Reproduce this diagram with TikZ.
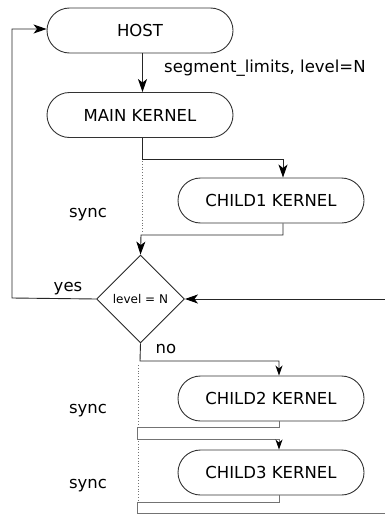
\documentclass[tikz,border=0pt]{standalone}
\usepackage{fontspec}
\setmainfont{DejaVu Sans}
\usetikzlibrary{shapes.misc,shapes.geometric,arrows.meta}
\begin{document}
\begin{tikzpicture}[x=1pt,y=-1pt,
  kernel/.style={rounded rectangle, draw=black!80, line width=0.9pt, minimum width=186pt, minimum height=45pt, inner sep=0pt, font=\fontsize{16.5}{19}\selectfont},
  decide/.style={diamond, draw=black!85, line width=0.9pt, minimum width=88pt, minimum height=88pt, inner sep=0pt, font=\fontsize{12}{14}\selectfont},
  conn/.style={line width=0.9pt, draw=black!85},
  syncline/.style={line width=0.9pt, draw=black!55},
  arr/.style={-{Stealth[length=13pt,width=9pt,inset=3.5pt,color=black]}},
  arrs/.style={-{Stealth[length=10pt,width=7pt,inset=3pt,color=black]}},
  dots/.style={line width=0.8pt, draw=black!55, dotted},
  lbl/.style={font=\fontsize{16.5}{19}\selectfont, inner sep=0pt}]
\useasboundingbox (0,0) rectangle (385,514);
\node[kernel] (host) at (140,30.5) {HOST};
\node[kernel] (main) at (140,115) {MAIN KERNEL};
\node[kernel] (c1) at (271,200.5) {CHILD1 KERNEL};
\node[decide] (dec) at (140.5,299) {level = N};
\node[kernel] (c2) at (271,398.5) {CHILD2 KERNEL};
\node[kernel] (c3) at (271,472.5) {CHILD3 KERNEL};

\node[lbl, anchor=west] (segl) at (164,68) {segment\_limits, level=N};
\node[lbl] (s1) at (88,215) {sync};
\node[lbl] (yes) at (68,289) {yes};
\node[lbl] (no) at (166,349) {no};
\node[lbl] (s2) at (88,411) {sync};
\node[lbl] (s3) at (88,486) {sync};

\coordinate (a1) at (142.5,159);
\coordinate (a2) at (283,159);
\coordinate (b1) at (283,235);
\coordinate (b2) at (141,235);
\coordinate (y1) at (12,298);
\coordinate (y2) at (12,29);
\coordinate (rin) at (385,299);
\coordinate (n1) at (140,361);
\coordinate (n2) at (279,361);
\coordinate (d1) at (279,427);
\coordinate (d2) at (137.5,427);
\coordinate (d3) at (137.5,439);
\coordinate (d4) at (279,439);
\coordinate (e1) at (279,502);
\coordinate (e2) at (137.5,502);
\coordinate (e3) at (137.5,513);
\coordinate (e4) at (385,513);

\draw[conn,arr] (host.south -| 142.5,0) -- (main.north -| 142.5,0);
\draw[conn,arr] (main.south -| a1) -- (a1) -- (a2) -- (c1.north -| a2);
\draw[conn,arr] (c1.south -| b1) -- (b1) -- (b2) -- (dec.north);
\draw[conn,arr] (dec.west) -- (y1) -- (y2) -- (host.west |- y2);
\draw[conn,arr] (rin) -- (dec.east);
\draw[conn,arrs] (dec.south) -- (n1) -- (n2) -- (c2.north -| n2);
\draw[syncline,arrs] (c2.south -| d1) -- (d1) -- (d2) -- (d3) -- (d4) -- (c3.north -| d4);
\draw[syncline] (c3.south -| e1) -- (e1) -- (e2) -- (e3) -- (e4);

\draw[dots] (142,161) -- (142,233);
\draw[dots] (138,365) -- (138,425);
\draw[dots] (138,441) -- (138,500);
\end{tikzpicture}
\end{document}
